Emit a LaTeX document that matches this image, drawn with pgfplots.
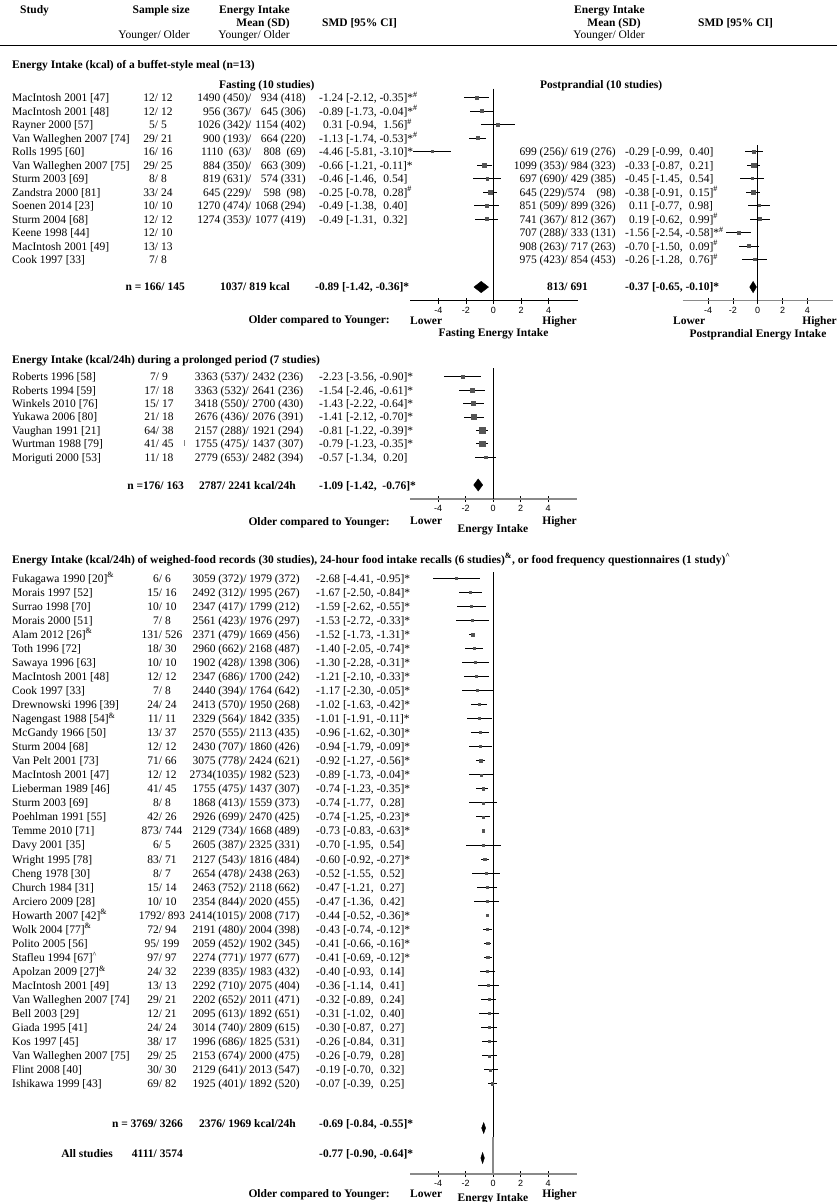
\documentclass[border=0pt]{standalone}
\usepackage{fontspec}
\setmainfont{Liberation Serif}
\newfontfamily\tickfont{Liberation Sans}
\usepackage{pgfplots}
\usepackage{pgfplotstable}
\pgfplotsset{compat=1.18}

\definecolor{markgray}{HTML}{555555}
\definecolor{axisgray}{HTML}{8A8A8A}

% r = row, m = SMD, lo/hi = 95% CI, s = mark size
\pgfplotstableread{
r m lo hi s
1 -1.24 -2.12 -0.35 1.5
2 -0.89 -1.73 -0.04 1.5
3 0.31 -0.94 1.56 1.4
4 -1.13 -1.74 -0.53 1.6
5 -4.46 -5.81 -3.10 1.1
6 -0.66 -1.21 -0.11 2.0
7 -0.46 -1.46 0.54 1.4
8 -0.25 -0.78 0.28 2.0
9 -0.49 -1.38 0.40 1.5
10 -0.49 -1.31 0.32 1.5
}\fasting

\pgfplotstableread{
r m lo hi s
5 -0.29 -0.99 0.40 1.5
6 -0.33 -0.87 0.21 2.2
7 -0.45 -1.45 0.54 1.2
8 -0.38 -0.91 0.15 2.0
9 0.11 -0.77 0.98 1.2
10 0.19 -0.62 0.99 1.5
11 -1.56 -2.54 -0.58 1.5
12 -0.70 -1.50 0.09 1.5
13 -0.26 -1.28 0.76 1.2
}\postprandial

\pgfplotstableread{
r m lo hi s
1 -2.23 -3.56 -0.90 1.2
2 -1.54 -2.46 -0.61 2.2
3 -1.43 -2.22 -0.64 2.0
4 -1.41 -2.12 -0.70 2.3
5 -0.81 -1.22 -0.39 2.7
6 -0.79 -1.23 -0.35 2.7
7 -0.57 -1.34 0.20 1.4
}\prolonged

\pgfplotstableread{
r m lo hi s
1 -2.68 -4.41 -0.95 0.9
2 -1.67 -2.50 -0.84 1.0
3 -1.59 -2.62 -0.55 0.9
4 -1.53 -2.72 -0.33 0.9
5 -1.52 -1.73 -1.31 1.5
6 -1.40 -2.05 -0.74 1.0
7 -1.30 -2.28 -0.31 0.9
8 -1.21 -2.10 -0.33 1.0
9 -1.17 -2.30 -0.05 0.9
10 -1.02 -1.63 -0.42 1.1
11 -1.01 -1.91 -0.11 0.9
12 -0.96 -1.62 -0.30 1.1
13 -0.94 -1.79 -0.09 1.0
14 -0.92 -1.27 -0.56 1.3
15 -0.89 -1.73 -0.04 1.0
16 -0.74 -1.23 -0.35 1.2
17 -0.74 -1.77 0.28 0.9
18 -0.74 -1.25 -0.23 1.1
19 -0.73 -0.83 -0.63 1.3
20 -0.70 -1.95 0.54 0.9
21 -0.60 -0.92 -0.27 1.3
22 -0.52 -1.55 0.52 0.9
23 -0.47 -1.21 0.27 1.0
24 -0.47 -1.36 0.42 1.0
25 -0.44 -0.52 -0.36 1.3
26 -0.43 -0.74 -0.12 1.2
27 -0.41 -0.66 -0.16 1.3
28 -0.41 -0.69 -0.12 1.3
29 -0.40 -0.93 0.14 1.0
30 -0.36 -1.14 0.41 0.9
31 -0.32 -0.89 0.24 1.0
32 -0.31 -1.02 0.40 1.0
33 -0.30 -0.87 0.27 1.0
34 -0.26 -0.84 0.31 1.0
35 -0.26 -0.79 0.28 1.0
36 -0.19 -0.70 0.32 1.0
37 -0.07 -0.39 0.25 1.2
}\records

\pgfplotsset{
  forest/.style={
    scale only axis, clip=false, anchor=north west,
    axis x line*=bottom, axis y line=none,
    xmin=-6.05, xmax=6.1,
    xtick={-4,-2,0,2,4}, xticklabels={-4,-2,0,2,4},
    tick align=center, major tick length=6bp,
    tick style={black, line width=0.6bp},
    xticklabel style={font=\tickfont\fontsize{9bp}{9bp}\selectfont, inner sep=0pt, yshift=-3.5bp},
    axis line style={axisgray, line width=1.3bp},
  },
  pts/.style={
    only marks, mark=square*, scatter,
    scatter/use mapped color={draw=markgray, fill=markgray},
    visualization depends on={\thisrow{s}\as\msz},
    scatter/@pre marker code/.append style={/tikz/mark size=\msz},
    error bars/x dir=both, error bars/x explicit, error bars/error mark=none,
    error bars/error bar style={black, line width=0.8bp},
  },
  zero/.style={black, line width=0.8bp},
  table/fcols/.style={x=m, y expr=-\thisrow{r},
    x error plus expr=\thisrow{hi}-\thisrow{m},
    x error minus expr=\thisrow{m}-\thisrow{lo}},
}

\newcommand{\fs}{\fontsize{11.5bp}{13.5bp}\selectfont}
\newcommand{\hs}{\textsuperscript{\#}}
\newcommand{\am}{\textsuperscript{\&}}
\newcommand{\p}{\phantom{-}}
\newcommand{\Row}[6]{%
  \pgfmathsetmacro\yy{\yb+\yg*(#1-1)+4}%
  \node[anchor=base west] at (\cN,\yy) {#2};
  \node[anchor=base] at (\cS,\yy) {#3};
  \node[anchor=base east] at (\cA,\yy) {#4};
  \node[anchor=base east] at (\cB,\yy) {#5};
  \node[anchor=base west] at (\cD,\yy) {#6};}

\begin{document}
\begin{tikzpicture}
\path[use as bounding box] (0,0) rectangle (837bp,-1202bp);

% ---------- forest panels ----------
\begin{axis}[forest, at={(410bp,-88bp)}, width=167.67bp, height=212.7bp,
  ymin=-16.052, ymax=-0.296, axis line style={black, line width=0.8bp}]
\addplot[zero] coordinates {(0,-0.35) (0,-16.052)};
\addplot[pts] table[fcols] {\fasting};
\addplot[fill=black, draw=black] coordinates {(-1.42,-15.04) (-0.89,-14.62) (-0.36,-15.04) (-0.89,-15.46) (-1.42,-15.04)};
\end{axis}

\begin{axis}[forest, at={(682.7bp,-88bp)}, width=150.66bp, height=212.7bp,
  ymin=-16.052, ymax=-0.296]
\addplot[zero] coordinates {(0,-4.52) (0,-16.052)};
\addplot[pts] table[fcols] {\postprandial};
\addplot[fill=black, draw=black] coordinates {(-0.65,-15.04) (-0.37,-14.62) (-0.10,-15.04) (-0.37,-15.46) (-0.65,-15.04)};
\end{axis}

\begin{axis}[forest, at={(410bp,-368bp)}, width=167.06bp, height=131.0bp,
  ymin=-10.127, ymax=-0.35]
\addplot[zero] coordinates {(0,-0.35) (0,-10.127)};
\addplot[pts] table[fcols] {\prolonged};
\addplot[fill=black, draw=black] coordinates {(-1.42,-9.08) (-1.09,-8.63) (-0.76,-9.08) (-1.09,-9.53) (-1.42,-9.08)};
\end{axis}

\begin{axis}[forest, at={(410bp,-572bp)}, width=167.06bp, height=602.0bp,
  ymin=-43.42, ymax=-0.573]
\addplot[zero] coordinates {(0,-0.573) (0,-43.42)};
\addplot[axisgray, line width=1.6bp] coordinates {(0,-40.79) (0,-43.42)};
\addplot[pts] table[fcols] {\records};
\addplot[fill=black, draw=black] coordinates {(-0.84,-40.146) (-0.69,-39.756) (-0.55,-40.146) (-0.69,-40.536) (-0.84,-40.146)};
\addplot[fill=black, draw=black] coordinates {(-0.90,-42.281) (-0.77,-41.891) (-0.64,-42.281) (-0.77,-42.671) (-0.90,-42.281)};
\end{axis}

% ---------- text ----------
\begin{scope}[x=1bp, y=-1bp, every node/.style={inner sep=0pt, font=\fs}]
% header
\node[anchor=base west] at (20,13) {\textbf{Study}};
\node[anchor=base east] at (190,13) {\textbf{Sample size}};
\node[anchor=base east] at (290,13) {\textbf{Energy Intake}};
\node[anchor=base east] at (290,26) {\textbf{Mean (SD)}};
\node[anchor=base west] at (322,26) {\textbf{SMD [95\% CI]}};
\node[anchor=base east] at (190,38.5) {Younger/ Older};
\node[anchor=base east] at (290,38.5) {Younger/ Older};
\node[anchor=base east] at (645,13) {\textbf{Energy Intake}};
\node[anchor=base east] at (641,26) {\textbf{Mean (SD)}};
\node[anchor=base east] at (645,38.5) {Younger/ Older};
\node[anchor=base west] at (698,26) {\textbf{SMD [95\% CI]}};
\draw[line width=1.2bp] (0,45.5) -- (837,45.5);

% section 1
\node[anchor=base west] at (12,68) {\textbf{Energy Intake (kcal) of a buffet-style meal (n=13)}};
\node[anchor=base west] at (219,88) {\textbf{Fasting (10 studies)}};
\node[anchor=base west] at (540,88) {\textbf{Postprandial (10 studies)}};
\def\yb{97.5}\def\yg{13.5}
\def\cN{12}\def\cS{158}\def\cA{251.5}\def\cB{306}\def\cD{319}
\Row{1}{MacIntosh 2001 [47]}{12/ 12}{1490 (450)/}{934 (418)}{-1.24 [-2.12, -0.35]*\hs}
\Row{2}{MacIntosh 2001 [48]}{12/ 12}{956 (367)/}{645 (306)}{-0.89 [-1.73, -0.04]*\hs}
\Row{3}{Rayner 2000 [57]}{5/ 5}{1026 (342)/}{1154 (402)}{\p0.31 [-0.94, \p1.56]\hs}
\Row{4}{Van Walleghen 2007 [74]}{29/ 21}{900 (193)/}{664 (220)}{-1.13 [-1.74, -0.53]*\hs}
\Row{5}{Rolls 1995 [60]}{16/ 16}{1110\enspace(63)/}{808\enspace(69)}{-4.46 [-5.81, -3.10]*}
\Row{6}{Van Walleghen 2007 [75]}{29/ 25}{884 (350)/}{663 (309)}{-0.66 [-1.21, -0.11]*}
\Row{7}{Sturm 2003 [69]}{8/ 8}{819 (631)/}{574 (331)}{-0.46 [-1.46, \p0.54]}
\Row{8}{Zandstra 2000 [81]}{33/ 24}{645 (229)/}{598\enspace(98)}{-0.25 [-0.78, \p0.28]\hs}
\Row{9}{Soenen 2014 [23]}{10/ 10}{1270 (474)/}{1068 (294)}{-0.49 [-1.38, \p0.40]}
\Row{10}{Sturm 2004 [68]}{12/ 12}{1274 (353)/}{1077 (419)}{-0.49 [-1.31, \p0.32]}
\Row{11}{Keene 1998 [44]}{12/ 10}{}{}{}
\Row{12}{MacIntosh 2001 [49]}{13/ 13}{}{}{}
\Row{13}{Cook 1997 [33]}{7/ 8}{}{}{}
\def\cN{400}\def\cS{400}\def\cA{568}\def\cB{616}\def\cD{625}
\Row{5}{}{}{699 (256)/}{619 (276)}{-0.29 [-0.99, \p0.40]}
\Row{6}{}{}{1099 (353)/}{984 (323)}{-0.33 [-0.87, \p0.21]}
\Row{7}{}{}{697 (690)/}{429 (385)}{-0.45 [-1.45, \p0.54]}
\Row{8}{}{}{645 (229)/}{574\enspace\enspace(98)}{-0.38 [-0.91, \p0.15]\hs}
\Row{9}{}{}{851 (509)/}{899 (326)}{\p0.11 [-0.77, \p0.98]}
\Row{10}{}{}{741 (367)/}{812 (367)}{\p0.19 [-0.62, \p0.99]\hs}
\Row{11}{}{}{707 (288)/}{333 (131)}{-1.56 [-2.54, -0.58]*\hs}
\Row{12}{}{}{908 (263)/}{717 (263)}{-0.70 [-1.50, \p0.09]\hs}
\Row{13}{}{}{975 (423)/}{854 (453)}{-0.26 [-1.28, \p0.76]\hs}
\node[anchor=base east] at (185,290) {\textbf{n = 166/ 145}};
\node[anchor=base west] at (220,290) {\textbf{1037/ 819 kcal}};
\node[anchor=base west] at (315,290) {\textbf{-0.89 [-1.42, -0.36]*}};
\node[anchor=base west] at (547,290) {\textbf{813/ 691}};
\node[anchor=base west] at (625,290) {\textbf{-0.37 [-0.65, -0.10]*}};
\node[anchor=base east] at (390,323.5) {\textbf{Older compared to Younger:}};
\node[anchor=base west] at (410,324.5) {\textbf{Lower}};
\node[anchor=base east] at (577,324) {\textbf{Higher}};
\node[anchor=base] at (493.5,336.5) {\textbf{Fasting Energy Intake}};
\node[anchor=base west] at (673,324.5) {\textbf{Lower}};
\node[anchor=base east] at (837,324) {\textbf{Higher}};
\node[anchor=base] at (758,337) {\textbf{Postprandial Energy Intake}};

% section 2
\node[anchor=base west] at (12,363) {\textbf{Energy Intake (kcal/24h) during a prolonged period (7 studies)}};
\def\yb{376.7}\def\yg{13.4}
\def\cN{12}\def\cS{159}\def\cA{249}\def\cB{303.3}\def\cD{319}
\Row{1}{Roberts 1996 [58]}{7/ 9}{3363 (537)/}{2432 (236)}{-2.23 [-3.56, -0.90]*}
\Row{2}{Roberts 1994 [59]}{17/ 18}{3363 (532)/}{2641 (236)}{-1.54 [-2.46, -0.61]*}
\Row{3}{Winkels 2010 [76]}{15/ 17}{3418 (550)/}{2700 (430)}{-1.43 [-2.22, -0.64]*}
\Row{4}{Yukawa 2006 [80]}{21/ 18}{2676 (436)/}{2076 (391)}{-1.41 [-2.12, -0.70]*}
\Row{5}{Vaughan 1991 [21]}{64/ 38}{2157 (288)/}{1921 (294)}{-0.81 [-1.22, -0.39]*}
\Row{6}{Wurtman 1988 [79]}{41/ 45}{1755 (475)/}{1437 (307)}{-0.79 [-1.23, -0.35]*}
\Row{7}{Moriguti 2000 [53]}{11/ 18}{2779 (653)/}{2482 (394)}{-0.57 [-1.34, \p0.20]}
\draw[gray, line width=0.5bp] (184,440) -- (184,446);
\node[anchor=base east] at (184,489) {\textbf{n =176/ 163}};
\node[anchor=base west] at (199,489) {\textbf{2787/ 2241 kcal/24h}};
\node[anchor=base west] at (319,489) {\textbf{-1.09 [-1.42, \ -0.76]*}};
\node[anchor=base east] at (390,525) {\textbf{Older compared to Younger:}};
\node[anchor=base west] at (410,524.5) {\textbf{Lower}};
\node[anchor=base east] at (577,524.5) {\textbf{Higher}};
\node[anchor=base] at (493,532) {\textbf{Energy Intake}};

% section 3
\node[anchor=base west] at (12,563) {\textbf{Energy Intake (kcal/24h) of weighed-food records (30 studies), 24-hour food intake recalls (6 studies)\textsuperscript{\&}, or food frequency questionnaires (1 study)\textsuperscript{\textasciicircum}}};
\def\yb{578}\def\yg{14.05}
\def\cN{12}\def\cS{162}\def\cA{246.7}\def\cB{300}\def\cD{316}
\Row{1}{Fukagawa 1990 [20]\am}{6/ 6}{3059 (372)/}{1979 (372)}{-2.68 [-4.41, -0.95]*}
\Row{2}{Morais 1997 [52]}{15/ 16}{2492 (312)/}{1995 (267)}{-1.67 [-2.50, -0.84]*}
\Row{3}{Surrao 1998 [70]}{10/ 10}{2347 (417)/}{1799 (212)}{-1.59 [-2.62, -0.55]*}
\Row{4}{Morais 2000 [51]}{7/ 8}{2561 (423)/}{1976 (297)}{-1.53 [-2.72, -0.33]*}
\Row{5}{Alam 2012 [26]\am}{131/ 526}{2371 (479)/}{1669 (456)}{-1.52 [-1.73, -1.31]*}
\Row{6}{Toth 1996 [72]}{18/ 30}{2960 (662)/}{2168 (487)}{-1.40 [-2.05, -0.74]*}
\Row{7}{Sawaya 1996 [63]}{10/ 10}{1902 (428)/}{1398 (306)}{-1.30 [-2.28, -0.31]*}
\Row{8}{MacIntosh 2001 [48]}{12/ 12}{2347 (686)/}{1700 (242)}{-1.21 [-2.10, -0.33]*}
\Row{9}{Cook 1997 [33]}{7/ 8}{2440 (394)/}{1764 (642)}{-1.17 [-2.30, -0.05]*}
\Row{10}{Drewnowski 1996 [39]}{24/ 24}{2413 (570)/}{1950 (268)}{-1.02 [-1.63, -0.42]*}
\Row{11}{Nagengast 1988 [54]\am}{11/ 11}{2329 (564)/}{1842 (335)}{-1.01 [-1.91, -0.11]*}
\Row{12}{McGandy 1966 [50]}{13/ 37}{2570 (555)/}{2113 (435)}{-0.96 [-1.62, -0.30]*}
\Row{13}{Sturm 2004 [68]}{12/ 12}{2430 (707)/}{1860 (426)}{-0.94 [-1.79, -0.09]*}
\Row{14}{Van Pelt 2001 [73]}{71/ 66}{3075 (778)/}{2424 (621)}{-0.92 [-1.27, -0.56]*}
\Row{15}{MacIntosh 2001 [47]}{12/ 12}{2734(1035)/}{1982 (523)}{-0.89 [-1.73, -0.04]*}
\Row{16}{Lieberman 1989 [46]}{41/ 45}{1755 (475)/}{1437 (307)}{-0.74 [-1.23, -0.35]*}
\Row{17}{Sturm 2003 [69]}{8/ 8}{1868 (413)/}{1559 (373)}{-0.74 [-1.77, \p0.28]}
\Row{18}{Poehlman 1991 [55]}{42/ 26}{2926 (699)/}{2470 (425)}{-0.74 [-1.25, -0.23]*}
\Row{19}{Temme 2010 [71]}{873/ 744}{2129 (734)/}{1668 (489)}{-0.73 [-0.83, -0.63]*}
\Row{20}{Davy 2001 [35]}{6/ 5}{2605 (387)/}{2325 (331)}{-0.70 [-1.95, \p0.54]}
\Row{21}{Wright 1995 [78]}{83/ 71}{2127 (543)/}{1816 (484)}{-0.60 [-0.92, -0.27]*}
\Row{22}{Cheng 1978 [30]}{8/ 7}{2654 (478)/}{2438 (263)}{-0.52 [-1.55, \p0.52]}
\Row{23}{Church 1984 [31]}{15/ 14}{2463 (752)/}{2118 (662)}{-0.47 [-1.21, \p0.27]}
\Row{24}{Arciero 2009 [28]}{10/ 10}{2354 (844)/}{2020 (455)}{-0.47 [-1.36, \p0.42]}
\Row{25}{Howarth 2007 [42]\am}{1792/ 893}{2414(1015)/}{2008 (717)}{-0.44 [-0.52, -0.36]*}
\Row{26}{Wolk 2004 [77]\am}{72/ 94}{2191 (480)/}{2004 (398)}{-0.43 [-0.74, -0.12]*}
\Row{27}{Polito 2005 [56]}{95/ 199}{2059 (452)/}{1902 (345)}{-0.41 [-0.66, -0.16]*}
\Row{28}{Stafleu 1994 [67]\textsuperscript{\textasciicircum}}{97/ 97}{2274 (771)/}{1977 (677)}{-0.41 [-0.69, -0.12]*}
\Row{29}{Apolzan 2009 [27]\am}{24/ 32}{2239 (835)/}{1983 (432)}{-0.40 [-0.93, \p0.14]}
\Row{30}{MacIntosh 2001 [49]}{13/ 13}{2292 (710)/}{2075 (404)}{-0.36 [-1.14, \p0.41]}
\Row{31}{Van Walleghen 2007 [74]}{29/ 21}{2202 (652)/}{2011 (471)}{-0.32 [-0.89, \p0.24]}
\Row{32}{Bell 2003 [29]}{12/ 21}{2095 (613)/}{1892 (651)}{-0.31 [-1.02, \p0.40]}
\Row{33}{Giada 1995 [41]}{24/ 24}{3014 (740)/}{2809 (615)}{-0.30 [-0.87, \p0.27]}
\Row{34}{Kos 1997 [45]}{38/ 17}{1996 (686)/}{1825 (531)}{-0.26 [-0.84, \p0.31]}
\Row{35}{Van Walleghen 2007 [75]}{29/ 25}{2153 (674)/}{2000 (475)}{-0.26 [-0.79, \p0.28]}
\Row{36}{Flint 2008 [40]}{30/ 30}{2129 (641)/}{2013 (547)}{-0.19 [-0.70, \p0.32]}
\Row{37}{Ishikawa 1999 [43]}{69/ 82}{1925 (401)/}{1892 (520)}{-0.07 [-0.39, \p0.25]}
\node[anchor=base east] at (183,1127) {\textbf{n = 3769/ 3266}};
\node[anchor=base west] at (199,1127) {\textbf{2376/ 1969 kcal/24h}};
\node[anchor=base west] at (319,1127) {\textbf{-0.69 [-0.84, -0.55]*}};
\node[anchor=base east] at (113,1157) {\textbf{All studies}};
\node[anchor=base east] at (183,1157) {\textbf{4111/ 3574}};
\node[anchor=base west] at (319,1157) {\textbf{-0.77 [-0.90, -0.64]*}};
\node[anchor=base east] at (390,1197) {\textbf{Older compared to Younger:}};
\node[anchor=base west] at (410,1197.5) {\textbf{Lower}};
\node[anchor=base east] at (577,1197) {\textbf{Higher}};
\node[anchor=base] at (493,1201) {\textbf{Energy Intake}};
\end{scope}
\end{tikzpicture}
\end{document}
